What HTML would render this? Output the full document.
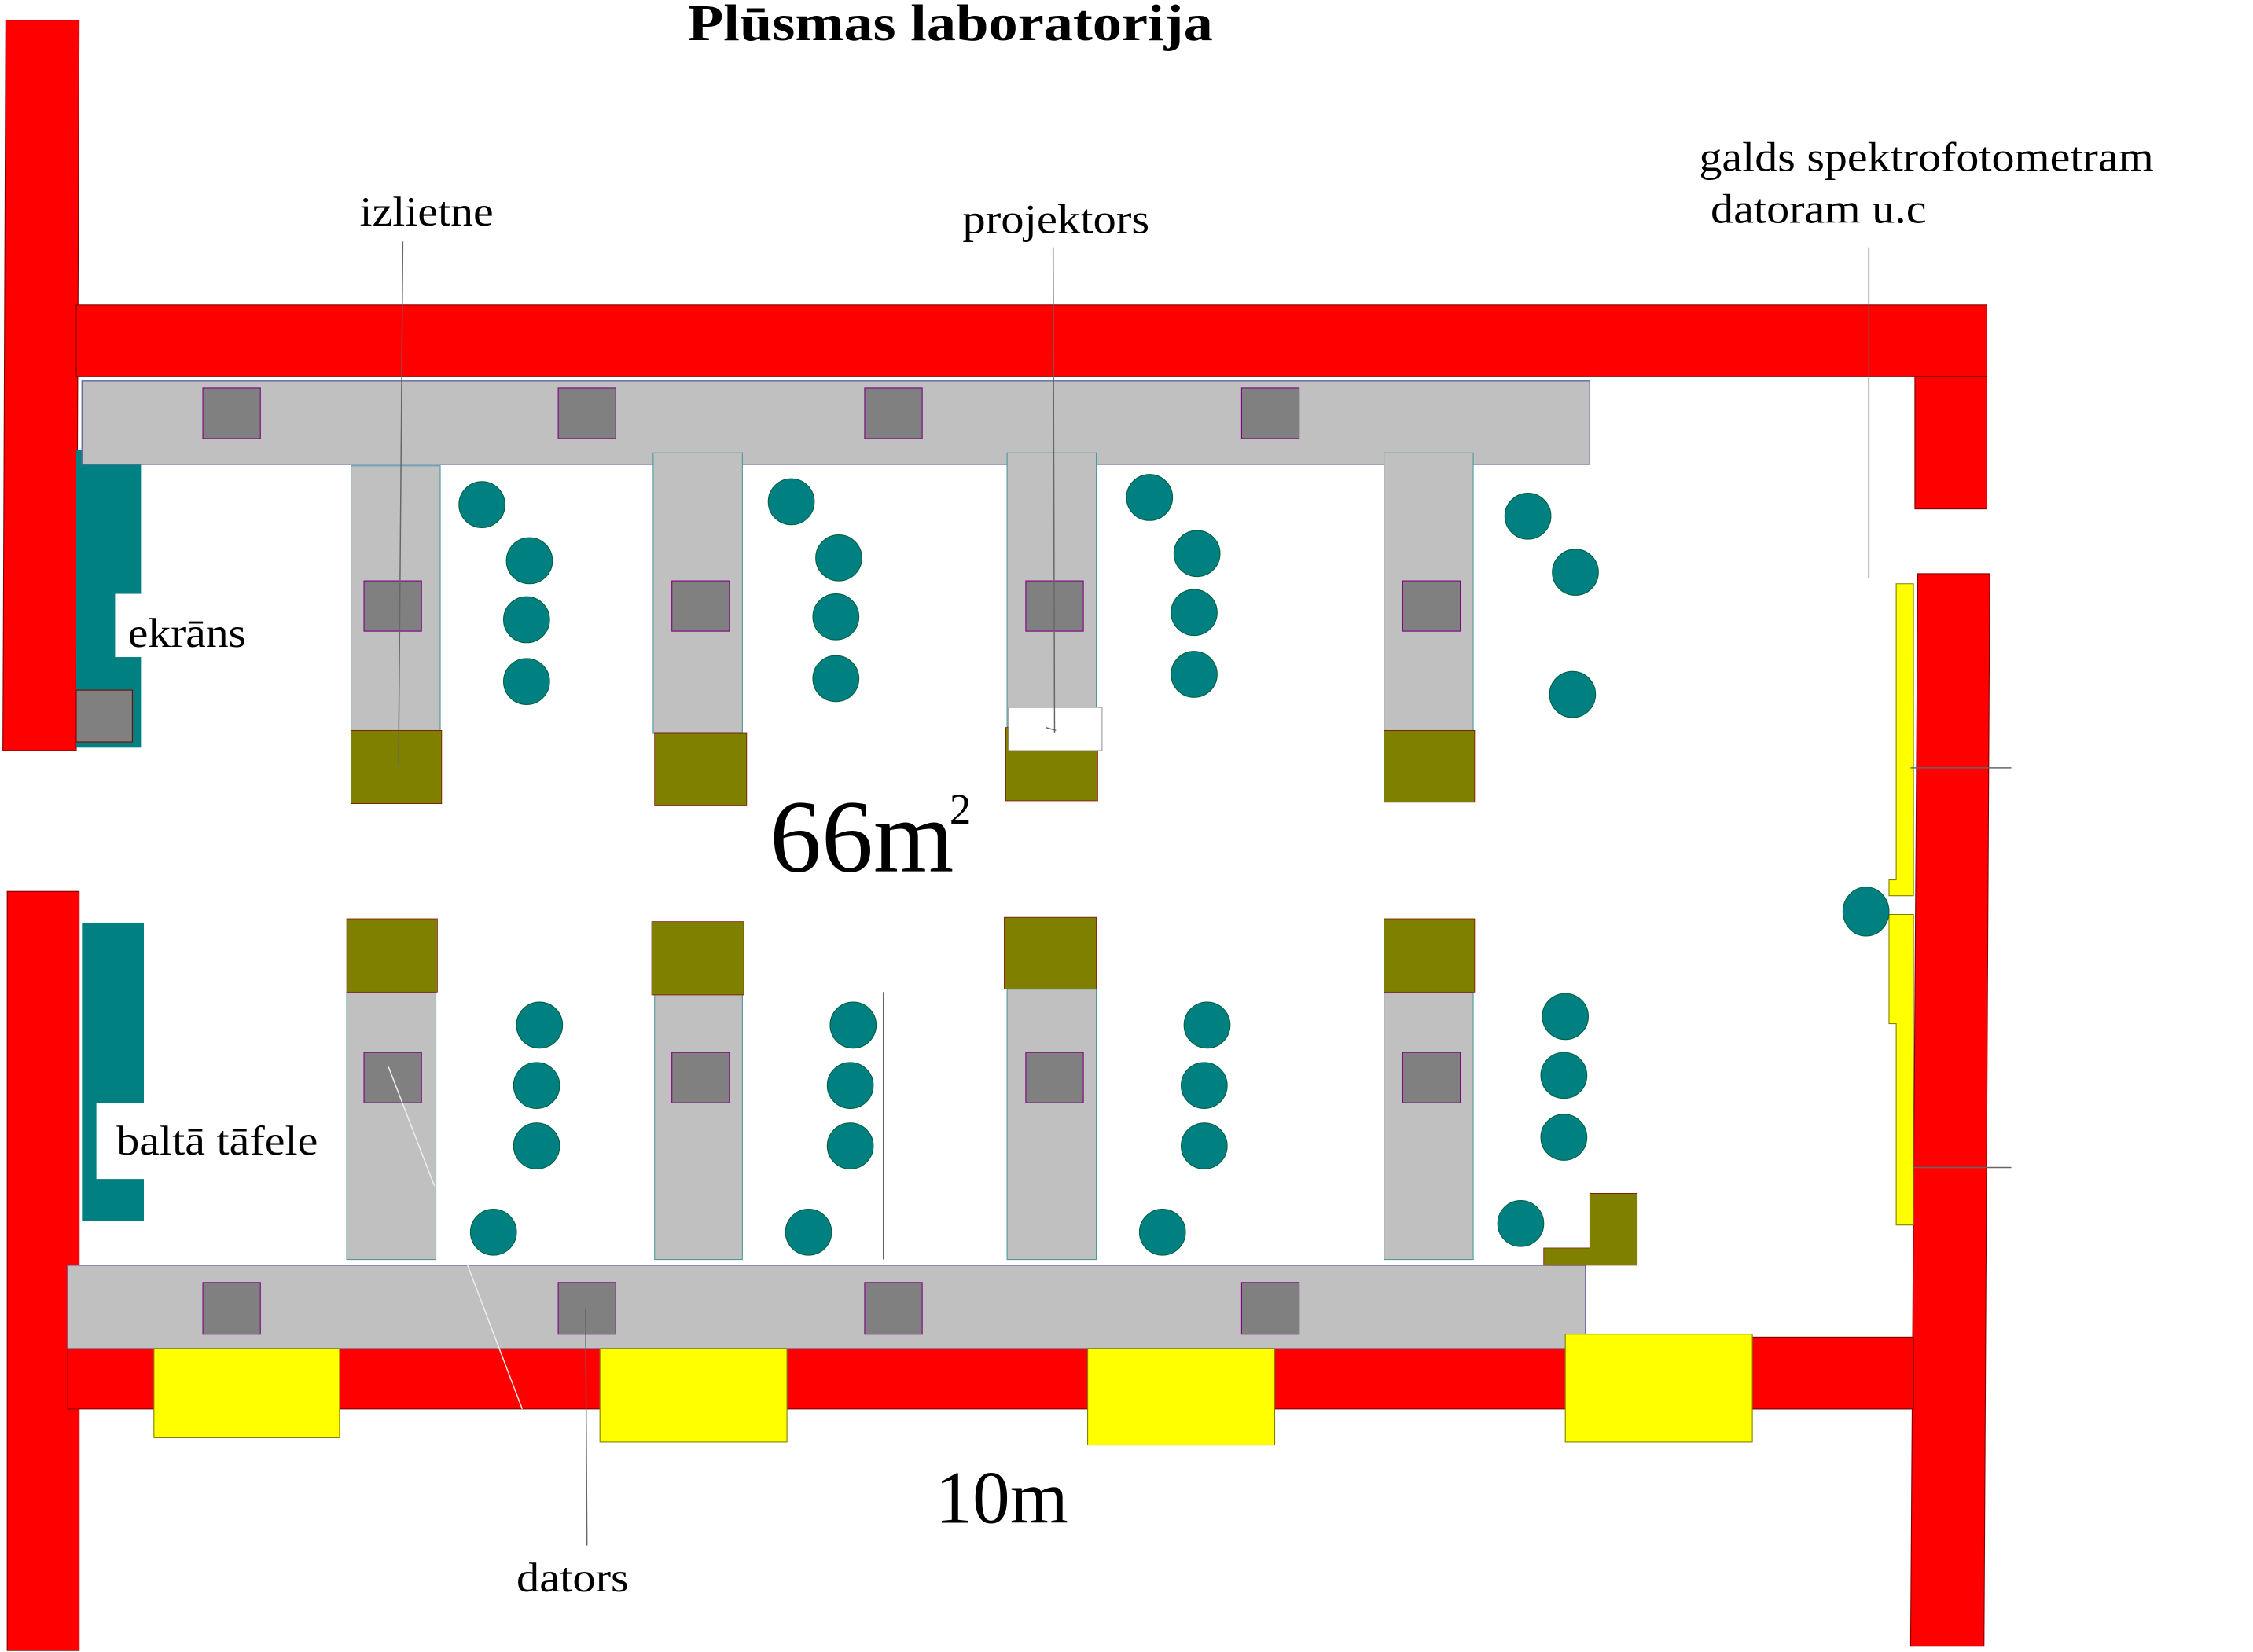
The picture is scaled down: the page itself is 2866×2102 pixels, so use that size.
<!DOCTYPE html>
<html><head><meta charset="utf-8">
<style>
html,body{margin:0;padding:0;background:#fff;}
svg{display:block;}
text{font-family:"Liberation Serif",serif;fill:#000;}
</style></head>
<body>
<svg width="2866" height="2102" viewBox="0 0 1566 1149" preserveAspectRatio="none" xmlns="http://www.w3.org/2000/svg">
<rect width="1566" height="1149" fill="#fff"/>
<text x="478" y="28" font-size="36" font-weight="bold" textLength="365" lengthAdjust="spacingAndGlyphs">Plūsmas laboratorija</text>

<!-- walls -->
<g fill="#ff0000" stroke="#800000" stroke-width="0.6">
<polygon points="4,14 55,14 53,522 2,522"/>
<rect x="53" y="212" width="1328" height="50"/>
<rect x="1331" y="262" width="50" height="92"/>
<polygon points="1333,399 1383,399 1379,1145 1328,1145"/>
<rect x="5" y="620" width="50" height="528"/>
<rect x="47" y="938" width="1283" height="42"/>
<rect x="1102" y="930" width="228" height="50"/>
</g>

<!-- teal boards -->
<rect x="53" y="313" width="45" height="207" fill="#008080"/>
<rect x="80" y="413" width="20" height="44" fill="#fff"/>
<rect x="53" y="480" width="39" height="36" fill="#808080" stroke="#800000" stroke-width="0.6"/>
<rect x="57" y="642" width="43" height="207" fill="#008080"/>
<rect x="67" y="767" width="35" height="53" fill="#fff"/>

<!-- benches -->
<g fill="#c0c0c0" stroke="#6a6aa0" stroke-width="0.8">
<rect x="57" y="265" width="1048" height="58"/>
<rect x="47" y="880" width="1055" height="58"/>
</g>
<g fill="#c0c0c0" stroke="#4a9a9a" stroke-width="0.6">
<rect x="244" y="324" width="62" height="186"/>
<rect x="454" y="315" width="62" height="195"/>
<rect x="700" y="315" width="62" height="195"/>
<rect x="962" y="315" width="62" height="195"/>
<rect x="241" y="690" width="62" height="186"/>
<rect x="455" y="690" width="61" height="186"/>
<rect x="700" y="688" width="62" height="188"/>
<rect x="962" y="690" width="62" height="186"/>
</g>

<!-- gray squares -->
<g fill="#808080" stroke="#800080" stroke-width="0.6">
<rect x="141" y="270" width="40" height="35"/>
<rect x="388" y="270" width="40" height="35"/>
<rect x="601" y="270" width="40" height="35"/>
<rect x="863" y="270" width="40" height="35"/>
<rect x="141" y="892" width="40" height="36"/>
<rect x="388" y="892" width="40" height="36"/>
<rect x="601" y="892" width="40" height="36"/>
<rect x="863" y="892" width="40" height="36"/>
<rect x="253" y="404" width="40" height="35"/>
<rect x="467" y="404" width="40" height="35"/>
<rect x="713" y="404" width="40" height="35"/>
<rect x="975" y="404" width="40" height="35"/>
<rect x="253" y="732" width="40" height="35"/>
<rect x="467" y="732" width="40" height="35"/>
<rect x="713" y="732" width="40" height="35"/>
<rect x="975" y="732" width="40" height="35"/>
</g>

<!-- olive blocks -->
<g fill="#808000" stroke="#800000" stroke-width="0.4">
<rect x="244" y="508" width="63" height="51"/>
<rect x="455" y="510" width="64" height="50"/>
<rect x="699" y="506" width="64" height="51"/>
<rect x="962" y="508" width="63" height="50"/>
<rect x="241" y="639" width="63" height="51"/>
<rect x="453" y="641" width="64" height="51"/>
<rect x="698" y="638" width="64" height="50"/>
<rect x="962" y="639" width="63" height="51"/>
<polygon points="1105,830 1138,830 1138,880 1073,880 1073,868 1105,868"/>
</g>
<rect x="701" y="492" width="65" height="30" fill="#fff" stroke="#999" stroke-width="0.6"/>

<!-- yellow -->
<g fill="#ffff00" stroke="#808000" stroke-width="0.6">
<rect x="107" y="938" width="129" height="62"/>
<rect x="417" y="938" width="130" height="65"/>
<rect x="756" y="938" width="130" height="67"/>
<rect x="1088" y="928" width="130" height="75"/>
<polygon points="1318,406 1330,406 1330,623 1313,623 1313,612 1318,612"/>
<polygon points="1313,636 1330,636 1330,852 1318,852 1318,712 1313,712"/>
</g>

<!-- chairs -->
<g fill="#008080" stroke="#006040" stroke-width="0.6">
<circle cx="335" cy="351" r="16"/><circle cx="368" cy="390" r="16"/><circle cx="366" cy="431" r="16"/><circle cx="366" cy="474" r="16"/>
<circle cx="550" cy="349" r="16"/><circle cx="583" cy="388" r="16"/><circle cx="581" cy="429" r="16"/><circle cx="581" cy="472" r="16"/>
<circle cx="799" cy="346" r="16"/><circle cx="832" cy="385" r="16"/><circle cx="830" cy="426" r="16"/><circle cx="830" cy="469" r="16"/>
<circle cx="1062" cy="359" r="16"/><circle cx="1095" cy="398" r="16"/><circle cx="1093" cy="483" r="16"/>
<circle cx="375" cy="713" r="16"/><circle cx="373" cy="755" r="16"/><circle cx="373" cy="797" r="16"/><circle cx="343" cy="857" r="16"/>
<circle cx="593" cy="713" r="16"/><circle cx="591" cy="755" r="16"/><circle cx="591" cy="797" r="16"/><circle cx="562" cy="857" r="16"/>
<circle cx="839" cy="713" r="16"/><circle cx="837" cy="755" r="16"/><circle cx="837" cy="797" r="16"/><circle cx="808" cy="857" r="16"/>
<circle cx="1088" cy="707" r="16"/><circle cx="1087" cy="748" r="16"/><circle cx="1087" cy="791" r="16"/><circle cx="1057" cy="851" r="16"/>
<ellipse cx="1297" cy="634" rx="16" ry="17"/>
</g>

<!-- thin lines -->
<g stroke="#666" stroke-width="0.8" fill="none">
<line x1="280" y1="168" x2="277" y2="532"/>
<line x1="732" y1="172" x2="733" y2="510"/>
<line x1="1299" y1="172" x2="1299" y2="402"/>
<line x1="1328" y1="534" x2="1398" y2="534"/>
<line x1="1330" y1="812" x2="1398" y2="812"/>
<line x1="614" y1="690" x2="614" y2="876"/>
<line x1="407" y1="910" x2="408" y2="1075"/>
<line x1="727" y1="506" x2="734" y2="508"/>
</g>
<g stroke="#eee" stroke-width="0.8" fill="none">
<line x1="270" y1="742" x2="302" y2="825"/>
<line x1="325" y1="880" x2="363" y2="980"/>
</g>

<!-- labels -->
<text x="250" y="157" font-size="29" textLength="93" lengthAdjust="spacingAndGlyphs">izlietne</text>
<text x="669" y="162" font-size="29" textLength="130" lengthAdjust="spacingAndGlyphs">projektors</text>
<text x="1181" y="119" font-size="29" textLength="316" lengthAdjust="spacingAndGlyphs">galds spektrofotometram</text>
<text x="1189" y="155" font-size="29" textLength="150" lengthAdjust="spacingAndGlyphs">datoram u.c</text>
<text x="89" y="450" font-size="29" textLength="82" lengthAdjust="spacingAndGlyphs">ekrāns</text>
<text x="81" y="803" font-size="29" textLength="140" lengthAdjust="spacingAndGlyphs">baltā tāfele</text>
<text x="535" y="606" font-size="72">66m</text>
<text x="660" y="573" font-size="30">2</text>
<text x="650" y="1059" font-size="52">10m</text>
<text x="359" y="1107" font-size="29" textLength="78" lengthAdjust="spacingAndGlyphs">dators</text>
</svg>
</body></html>
